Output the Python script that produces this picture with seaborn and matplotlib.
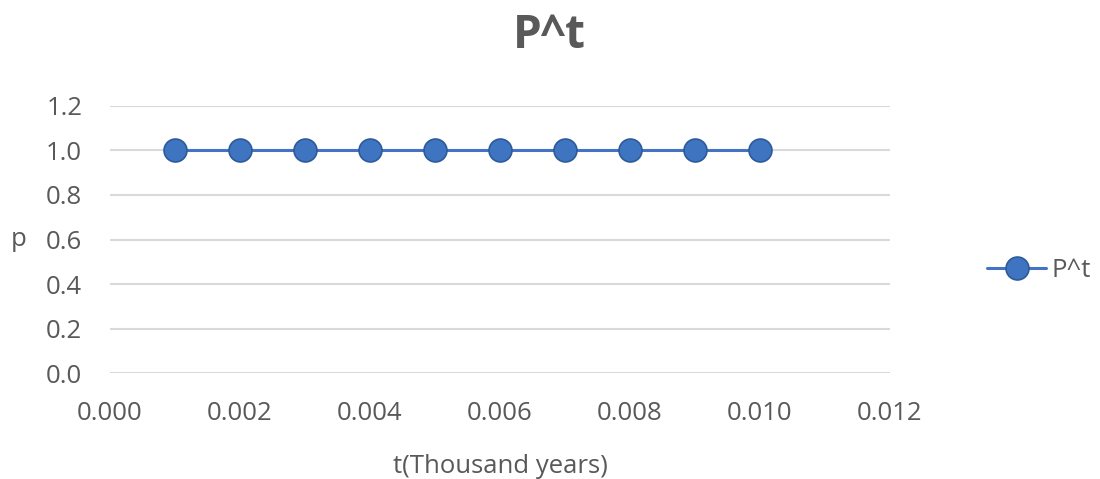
import matplotlib
matplotlib.use("Agg")
import matplotlib.pyplot as plt
import pandas as pd
import seaborn as sns

t_values = [0.001, 0.002, 0.003, 0.004, 0.005, 0.006, 0.007, 0.008, 0.009, 0.010]
p_values = [1.0, 1.0, 1.0, 1.0, 1.0, 1.0, 1.0, 1.0, 1.0, 1.0]
x_ticks = [0.000, 0.002, 0.004, 0.006, 0.008, 0.010, 0.012]
y_ticks = [0.0, 0.2, 0.4, 0.6, 0.8, 1.0, 1.2]
series_name = "P^t"

sns.set_theme(style="white")
plt.rcParams["font.family"] = ["Open Sans", "DejaVu Sans"]

text_color = "#595959"
grid_color = "#d9d9d9"
line_color = "#4472c4"

df = pd.DataFrame({"t": t_values, "p": p_values, "series": series_name})

fig = plt.figure(figsize=(11, 4.79), dpi=100)
ax = fig.add_axes([0.1, 0.221, 0.709, 0.558])

ax.set_yticks(y_ticks)
for y in y_ticks:
    ax.axhline(y, color=grid_color, lw=1.5, zorder=0)

sns.lineplot(
    data=df, x="t", y="p", hue="series", palette=[line_color],
    marker="o", markersize=16.5, markerfacecolor="#3f75c0",
    markeredgecolor="#2c5a9a", markeredgewidth=1.2,
    linewidth=2.2, ax=ax, zorder=3,
)

ax.set_xlim(0, 0.012)
ax.set_ylim(0, 1.2)
ax.set_xticks(x_ticks)
ax.set_xticklabels([f"{v:.3f}" for v in x_ticks])
ax.set_yticklabels([f"{v:.1f}" for v in y_ticks])
ax.tick_params(axis="both", labelsize=18.5, colors=text_color, length=0)
ax.tick_params(axis="x", pad=20)
ax.tick_params(axis="y", pad=20)
for s in ax.spines.values():
    s.set_visible(False)

ax.set_xlabel("t(Thousand years)", fontsize=18.5, color=text_color, labelpad=20)
ax.set_ylabel("p", fontsize=18.5, color=text_color, rotation=0, labelpad=20, va="center")
fig.suptitle(series_name, fontsize=33, fontweight="bold", color=text_color, x=0.499, y=0.975)

leg = ax.legend(
    loc="center left", bbox_to_anchor=(1.095, 0.385), frameon=False,
    fontsize=18.5, handlelength=2.3, handletextpad=0.2,
)
for txt in leg.get_texts():
    txt.set_color(text_color)

fig.savefig("out.png", dpi=100)
